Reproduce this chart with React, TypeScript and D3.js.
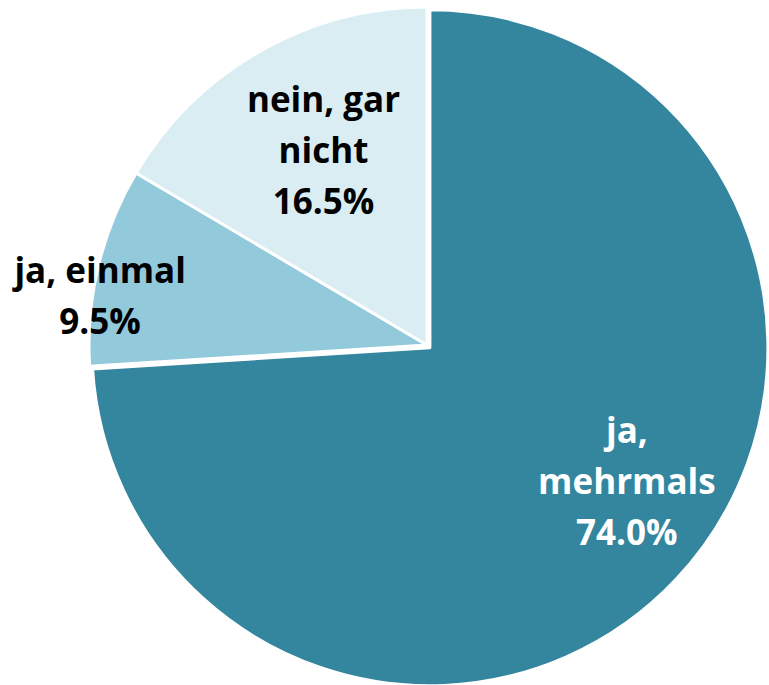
// @ts-nocheck
import { useMemo } from "react";
import * as d3 from "d3";

const categories = ["ja, mehrmals", "ja, einmal", "nein, gar nicht"];
const values = [74.0, 9.5, 16.5];
const labelLines = [["ja,", "mehrmals"], ["ja, einmal"], ["nein, gar", "nicht"]];
const colors = ["#33869d", "#92cadc", "#daedf3"];
const textColors = ["#ffffff", "#000000", "#000000"];

const W = 769;
const H = 685;
const cx = 427;
const cy = 345;
const radius = 338;
// explode offset and label placement per slice
const explode = [4, 0, 0];
const labelRadius = [240, 330, 221];
const labelNudge = [[22, -32], [-6, 27], [6, -4]];
const lineH = 51;

export default function App() {
  const arcs = useMemo(() => {
    const pie = d3.pie<number>().sort(null).value(d => d);
    return pie(values);
  }, []);

  const arc = d3.arc().innerRadius(0).outerRadius(radius);

  return (
    <svg width={W} height={H} style={{ position: "absolute", left: 0, top: 0 }}>
      <g transform={`translate(${cx},${cy})`}>
        {arcs.map((a, i) => {
          const mid = (a.startAngle + a.endAngle) / 2;
          const [ox, oy] = d3.pointRadial(mid, explode[i]);
          return (
            <path
              key={categories[i]}
              d={arc(a)}
              transform={`translate(${ox},${oy})`}
              fill={colors[i]}
              stroke="#ffffff"
              strokeWidth={3}
              strokeLinejoin="round"
            />
          );
        })}
        {arcs.map((a, i) => {
          const mid = (a.startAngle + a.endAngle) / 2;
          const [ox, oy] = d3.pointRadial(mid, explode[i]);
          const [lx, ly] = d3.pointRadial(mid, labelRadius[i]);
          const lines = [...labelLines[i], `${values[i].toFixed(1)}%`];
          const x = lx + ox + labelNudge[i][0];
          const y0 = ly + oy + labelNudge[i][1] - ((lines.length - 1) * lineH) / 2;
          return (
            <text
              key={"l" + i}
              textAnchor="middle"
              dominantBaseline="central"
              fontFamily="'Open Sans', sans-serif"
              fontWeight="bold"
              fontSize={35}
              fill={textColors[i]}
            >
              {lines.map((t, j) => (
                <tspan key={j} x={x} y={y0 + j * lineH}>{t}</tspan>
              ))}
            </text>
          );
        })}
      </g>
    </svg>
  );
}
